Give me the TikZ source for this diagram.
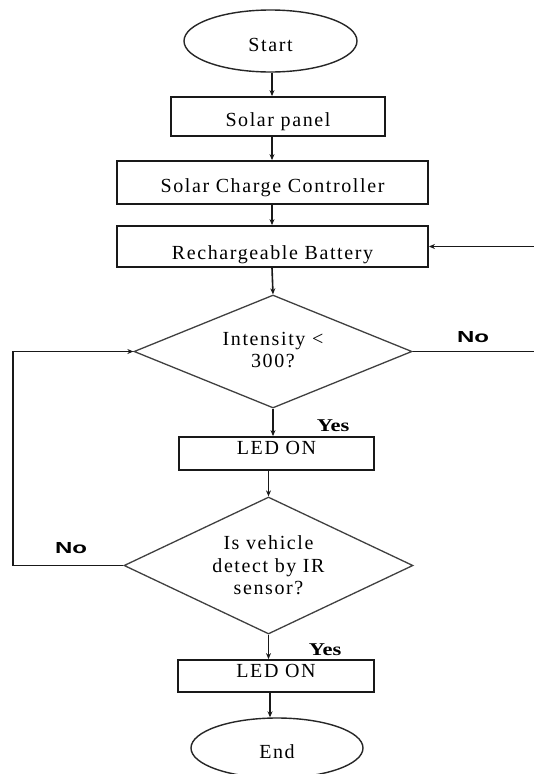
\documentclass[tikz,border=0pt]{standalone}
\usepackage{fontspec}
\setmainfont{Liberation Serif}
\newfontfamily\boxfont{Liberation Serif}[LetterSpace=8]
\newfontfamily\labsans{Liberation Sans}
\usetikzlibrary{shapes.geometric,arrows.meta}
\tikzset{
  txt/.style={font=\boxfont\fontsize{20}{22.5}\selectfont, align=center, inner sep=0pt},
  termbox/.style={txt, ellipse, draw=black!85, line width=1.4pt, text height=21pt, text depth=0pt},
  procbox/.style={txt, rectangle, draw=black!90, line width=1.8pt},
  lowtext/.style={text height=20pt, text depth=0pt},
  hightext/.style={text height=6pt, text depth=4pt},
  decbox/.style={txt, diamond, draw=black!75, line width=1.3pt},
  flow/.style={draw=black!90, line width=1.6pt, -{Stealth[length=6pt,width=5pt]}},
  nolab/.style={inner sep=0pt, font=\labsans\bfseries\fontsize{16}{18}\selectfont},
  yeslab/.style={inner sep=0pt, font=\bfseries\fontsize{18}{20}\selectfont},
}
\begin{document}
\begin{tikzpicture}[x=1pt,y=-1pt]
\useasboundingbox[fill=white] (0,0) rectangle (534,774);

\node[termbox, minimum width=173pt, minimum height=62pt] (start) at (270.5,41) {Start};
\node[procbox, lowtext, minimum width=214pt, minimum height=39pt] (sp) at (278,116.5) {Solar panel};
\node[procbox, lowtext, minimum width=311pt, minimum height=43pt] (scc) at (272.5,182.5) {Solar Charge Controller};
\node[procbox, text height=25pt, text depth=0pt, minimum width=311pt, minimum height=41pt] (bat) at (272.5,246.5) {Rechargeable Battery};
\node[decbox, shape aspect=2.46, minimum width=278pt, minimum height=113pt] (d1) at (273,351.5) {\raisebox{3pt}{\shortstack{Intensity <\\[2pt]300?}}};
\node[procbox, hightext, minimum width=195pt, minimum height=33pt] (led1) at (276.5,453.5) {LED ON};
\node[decbox, shape aspect=2.11, minimum width=289pt, minimum height=137pt] (d2) at (268.5,565.5) {Is vehicle\\detect by IR\\sensor?};
\node[procbox, hightext, minimum width=196pt, minimum height=32pt] (led2) at (276,676) {LED ON};
\node[termbox, minimum width=172pt, minimum height=60pt] (end) at (277,748) {End};

\coordinate (col) at (272,0);
\coordinate (col2) at (270,0);
\coordinate (lx) at (13,450);
\coordinate (rx) at (540,300);

\draw[flow] (col |- start.south) -- (col |- sp.north);
\draw[flow] (col |- sp.south) -- (col |- scc.north);
\draw[flow] (col |- scc.south) -- (col |- bat.north);
\draw[flow] (col |- bat.south) -- (d1.north);
\draw[flow] (d1.south) -- (d1.south |- led1.north);
\draw[flow] (led1.south -| d2.north) -- (d2.north);
\draw[flow] (d2.south) -- (d2.south |- led2.north);
\draw[flow] (col2 |- led2.south) -- (col2 |- end.north);

\draw[flow] (d2.west) -| (lx) |- (d1.west);
\draw[flow] (d1.east) -| (rx) |- (bat.east);

\node[nolab] (no1) at (473,337) {\scalebox{1.5}[1]{No}};
\node[yeslab] (yes1) at (333,426) {\scalebox{1.25}[1]{Yes}};
\node[nolab] (no2) at (71,548) {\scalebox{1.5}[1]{No}};
\node[yeslab] (yes2) at (325,650) {\scalebox{1.25}[1]{Yes}};
\end{tikzpicture}
\end{document}
